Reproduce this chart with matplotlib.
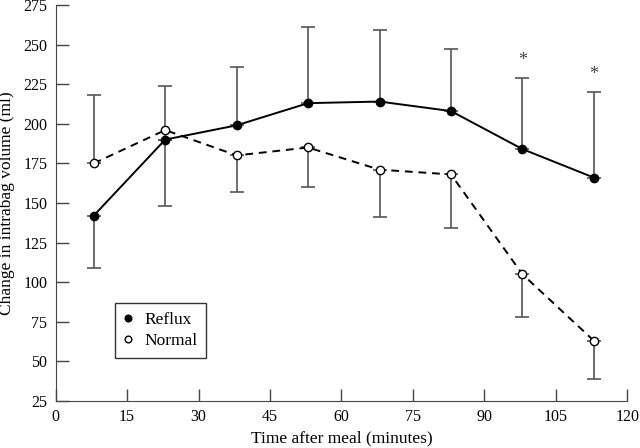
import matplotlib
matplotlib.use("Agg")
import matplotlib.pyplot as plt

plt.rcParams['font.family'] = ['Liberation Serif', 'DejaVu Serif']

time_min = [8, 23, 38, 53, 68, 83, 98, 113]
reflux = [142, 190, 199, 213, 214, 208, 184, 166]
reflux_err_upper = [0, 34, 37, 48, 45, 39, 45, 54]
reflux_err_lower = [33, 42, 0, 0, 0, 0, 0, 0]
normal = [175, 196, 180, 185, 171, 168, 105, 63]
normal_err_upper = [43, 0, 0, 0, 0, 0, 0, 0]
normal_err_lower = [0, 0, 23, 25, 30, 34, 27, 24]
star_x = [98, 113]
star_y = [240, 231]

fig = plt.figure(figsize=(6.4, 4.48), dpi=100)
ax = fig.add_axes([0.087, 0.105, 0.893, 0.884])

err_color = '#555555'

def draw_err(x, y, lo, hi):
    for xi, yi, l, h in zip(x, y, lo, hi):
        if h > 0:
            ax.errorbar([xi], [yi], yerr=[[0], [h]], fmt='none', ecolor=err_color,
                        elinewidth=1.2, capsize=5, capthick=1.2, zorder=1)
        if l > 0:
            ax.errorbar([xi], [yi], yerr=[[l], [0]], fmt='none', ecolor=err_color,
                        elinewidth=1.2, capsize=5, capthick=1.2, zorder=1)

draw_err(time_min, reflux, reflux_err_lower, reflux_err_upper)
draw_err(time_min, normal, normal_err_lower, normal_err_upper)

ax.plot(time_min, reflux, '-', color='black', lw=1.4, marker='o', ms=6,
        mfc='black', mec='black', label='Reflux', zorder=3)
ax.plot(time_min, normal, '--', color='black', lw=1.4, marker='o', ms=6,
        mfc='white', mec='black', mew=1.0, label='Normal', zorder=3, dashes=(4, 3))

for sx, sy in zip(star_x, star_y):
    ax.text(sx, sy, '*', ha='center', va='center', fontsize=13, color='#444444')

ax.set_xlim(0, 120)
ax.set_ylim(25, 275)
ax.set_xticks(range(0, 121, 15))
ax.set_yticks(range(25, 276, 25))
ax.spines['top'].set_visible(False)
ax.spines['right'].set_visible(False)
for s in ('left', 'bottom'):
    ax.spines[s].set_color('#444444')
ax.tick_params(direction='in', length=9, width=1, color='#444444', labelsize=11.5, pad=6)
ax.set_xlabel('Time after meal (minutes)', fontsize=12.5, labelpad=4)
ax.set_ylabel('Change in intrabag volume (ml)', fontsize=12.5, labelpad=6)

leg = ax.legend(loc='upper left', bbox_to_anchor=(0.104, 0.247), fontsize=12.5,
                frameon=True, fancybox=False, edgecolor='black', handlelength=0.5,
                handletextpad=0.7, borderpad=0.5, labelspacing=0.3, markerscale=0.8,
                borderaxespad=0)
leg.get_frame().set_linewidth(1.0)
for h in leg.legend_handles:
    h.set_linestyle('none')

fig.savefig('out.png', dpi=100)
